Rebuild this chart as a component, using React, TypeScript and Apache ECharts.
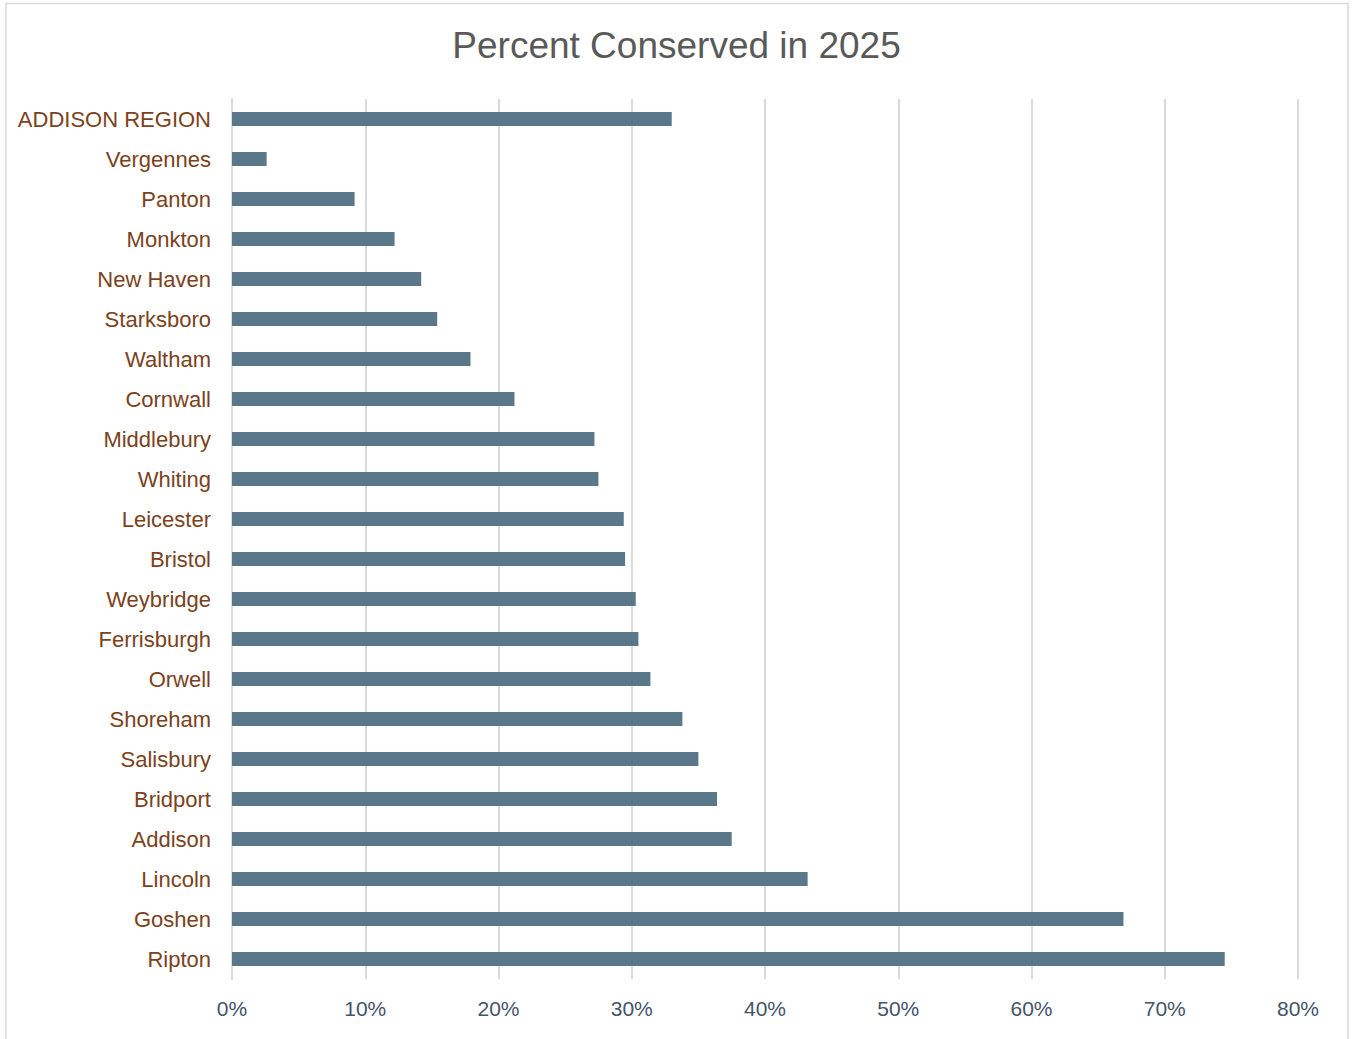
import React, { useEffect, useRef } from "react";
import * as echarts from "echarts";

const categories = [
  "ADDISON REGION", "Vergennes", "Panton", "Monkton", "New Haven", "Starksboro",
  "Waltham", "Cornwall", "Middlebury", "Whiting", "Leicester", "Bristol",
  "Weybridge", "Ferrisburgh", "Orwell", "Shoreham", "Salisbury", "Bridport",
  "Addison", "Lincoln", "Goshen", "Ripton",
];
const percentConserved = [
  33.0, 2.6, 9.2, 12.2, 14.2, 15.4, 17.9, 21.2, 27.2, 27.5, 29.4, 29.5,
  30.3, 30.5, 31.4, 33.8, 35.0, 36.4, 37.5, 43.2, 66.9, 74.5,
];
const titleText = "Percent Conserved in 2025";

export default function App() {
  const ref = useRef<HTMLDivElement>(null);
  useEffect(() => {
    if (!ref.current) return;
    const chart = echarts.init(ref.current, undefined, { renderer: "svg" });
    const font = "Liberation Sans, Arial, sans-serif";
    chart.setOption({
      animation: false,
      backgroundColor: "#ffffff",
      title: {
        text: titleText,
        left: "center",
        top: 22,
        textStyle: { fontFamily: font, fontSize: 37, fontWeight: "normal", color: "#595959" },
      },
      graphic: [
        {
          type: "rect",
          shape: { x: 6, y: 3.5, width: 1342, height: 1045 },
          style: { fill: "none", stroke: "#d9d9d9", lineWidth: 1.5 },
          silent: true,
        },
      ],
      grid: { left: 232, right: 55, top: 99, bottom: 60, containLabel: false },
      xAxis: {
        type: "value",
        min: 0,
        max: 80,
        interval: 10,
        axisLine: { show: false },
        axisTick: { show: false },
        splitLine: { show: true, lineStyle: { color: "#d9d9d9", width: 2 } },
        axisLabel: {
          formatter: "{value}%",
          color: "#44546a",
          fontFamily: font,
          fontSize: 21,
          margin: 19,
        },
      },
      yAxis: {
        type: "category",
        data: categories,
        inverse: true,
        axisLine: { show: true, lineStyle: { color: "#d9d9d9", width: 2 } },
        axisTick: { show: false },
        axisLabel: {
          color: "#7b4220",
          fontFamily: font,
          fontSize: 22,
          margin: 21,
        },
      },
      series: [
        {
          type: "bar",
          data: percentConserved,
          barWidth: 14,
          itemStyle: { color: "#5a7889" },
        },
      ],
    });
    return () => chart.dispose();
  }, []);
  return (
    <div
      ref={ref}
      style={{ position: "absolute", left: 0, top: 0, width: 1353, height: 1039 }}
    />
  );
}
